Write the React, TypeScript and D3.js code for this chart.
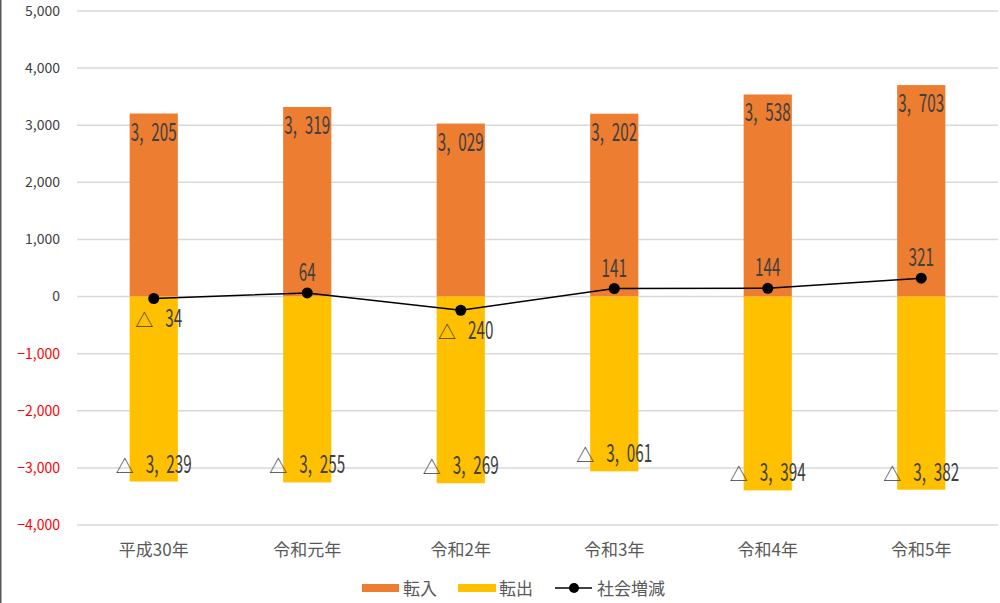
import React from "react";
import * as d3 from "d3";

const categories = ["平成30年", "令和元年", "令和2年", "令和3年", "令和4年", "令和5年"];
const tennyu = [3205, 3319, 3029, 3202, 3538, 3703];
const tenshutsu = [-3239, -3255, -3269, -3061, -3394, -3382];
const shakai = [-34, 64, -240, 141, 144, 321];
const yTicks = [5000, 4000, 3000, 2000, 1000, 0, -1000, -2000, -3000, -4000];

const W = 1000, H = 603;
const left = 77, right = 998, top = 11, bottom = 525;

const jpFont = "'Noto Sans CJK JP', 'Noto Sans', sans-serif";
const SX = 0.61;
const DIGIT = 8.5;
const COMMA_GAP = 12;
const TRI_W = 16;
const TRI_GAP = 13;

function Label({ x, y, value }: { x: number; y: number; value: number }) {
  const abs = Math.abs(value);
  const s = d3.format(",")(abs);
  const parts = s.split(",");
  const digits = s.replace(/,/g, "").length;
  const numW = digits * DIGIT + (parts.length - 1) * COMMA_GAP;
  const neg = value < 0;
  const total = numW + (neg ? TRI_W + TRI_GAP : 0);
  const start = x - total / 2;
  const numStart = start + (neg ? TRI_W + TRI_GAP : 0);
  return (
    <g>
      {neg && (
        <text x={start - 1} y={y} fontSize={18} fontFamily={jpFont} fill="#404040">△</text>
      )}
      <g transform={`translate(${numStart},${y}) scale(${SX},1)`}>
        <text x={0} y={0} fontSize={25} fontFamily={jpFont} fill="#404040">
          {parts.map((p, i) => (
            <tspan key={i} dx={i > 0 ? 13 : 0}>{i < parts.length - 1 ? p + "," : p}</tspan>
          ))}
        </text>
      </g>
    </g>
  );
}

export default function App() {
  const x = d3.scaleBand<string>().domain(categories).range([left, right]).paddingInner(0.686).paddingOuter(0.343);
  const y = d3.scaleLinear().domain([-4000, 5000]).range([bottom, top]);
  const bw = x.bandwidth();
  const cx = (c: string) => (x(c) as number) + bw / 2;
  const line = d3.line<number>().x((_, i) => cx(categories[i])).y((d) => y(d));

  return (
    <svg width={W} height={H} style={{ position: "absolute", left: 0, top: 0, background: "#fff" }}>
      <line x1={0.75} x2={0.75} y1={0} y2={H} stroke="#595959" strokeWidth={1.5} />
      {yTicks.map((t) => (
        <g key={t}>
          <line x1={left} x2={right} y1={y(t)} y2={y(t)} stroke="#d9d9d9" strokeWidth={1.5} />
          <text x={60} y={y(t)} dy="0.35em" textAnchor="end" fontSize={14} fontFamily={jpFont}
            fill={t < 0 ? "#ff0000" : "#404040"}>{d3.format(",")(t)}</text>
        </g>
      ))}
      {categories.map((c, i) => (
        <g key={c}>
          <rect x={x(c)} y={y(tennyu[i])} width={bw} height={y(0) - y(tennyu[i])} fill="#ED7D31" />
          <rect x={x(c)} y={y(0)} width={bw} height={y(tenshutsu[i]) - y(0)} fill="#FFC000" />
        </g>
      ))}
      {categories.map((c, i) => (
        <g key={"l" + c}>
          <Label x={cx(c)} y={y(tennyu[i]) + 27} value={tennyu[i]} />
          <Label x={cx(c) + 0.5} y={y(tenshutsu[i]) - 9} value={tenshutsu[i]} />
        </g>
      ))}
      <path d={line(shakai) as string} fill="none" stroke="#000" strokeWidth={1.5} />
      {shakai.map((v, i) => (
        <g key={"p" + i}>
          <circle cx={cx(categories[i])} cy={y(v)} r={5.5} fill="#000" />
          <Label x={cx(categories[i]) + (v < 0 ? 5.5 : 0)} y={v < 0 ? y(v) + 29 : y(v) - 12} value={v} />
        </g>
      ))}
      {categories.map((c) => (
        <text key={"x" + c} x={cx(c)} y={556} textAnchor="middle" fontSize={17} fontFamily={jpFont} fill="#595959">{c}</text>
      ))}
      <g fontFamily={jpFont} fontSize={17} fill="#595959">
        <rect x={362} y={584} width={37} height={8} fill="#ED7D31" />
        <text x={403} y={595}>転入</text>
        <rect x={458} y={584} width={38} height={8} fill="#FFC000" />
        <text x={499} y={595}>転出</text>
        <line x1={555} x2={592} y1={588} y2={588} stroke="#000" strokeWidth={1.5} />
        <circle cx={574} cy={588} r={5} fill="#000" />
        <text x={597} y={595}>社会増減</text>
      </g>
    </svg>
  );
}
